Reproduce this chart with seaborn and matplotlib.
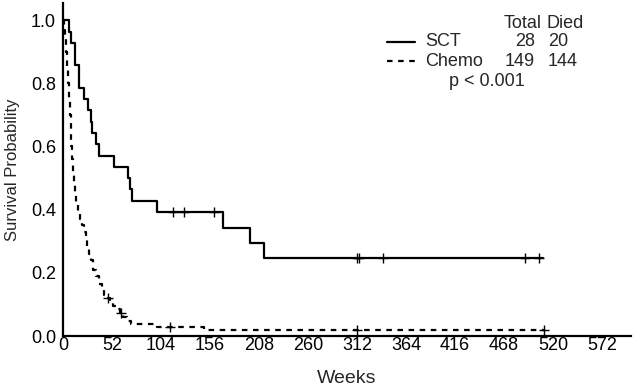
import pandas as pd
import seaborn as sns
import matplotlib.pyplot as plt
from matplotlib.lines import Line2D

# Kaplan-Meier step values (weeks, survival)
sct_weeks = [0, 6.4, 8.5, 12.7, 17, 22.3, 26.5, 29.4, 30.8, 34.7, 38.2, 54, 69.3, 71, 73, 100, 169.5, 198.5, 213, 509]
sct_surv = [1.0, 0.964, 0.929, 0.857, 0.786, 0.75, 0.714, 0.679, 0.643, 0.607, 0.571, 0.536, 0.5, 0.464, 0.429,
            0.393, 0.343, 0.295, 0.246, 0.246]
sct_cens_weeks = [116.4, 128.5, 160.6, 312.4, 314.6, 340, 490, 505]
sct_cens_surv = [0.393, 0.393, 0.393, 0.246, 0.246, 0.246, 0.246, 0.246]

chemo_weeks = [0, 1, 2, 3, 4, 5, 6, 7, 8, 9, 10, 11, 12, 13, 14, 16, 18, 20, 22, 24, 26, 28, 30, 32, 35, 38,
               41, 44, 47, 50, 53, 56, 60, 64, 68, 72, 100, 150, 511]
chemo_surv = [1.0, 0.97, 0.94, 0.90, 0.85, 0.80, 0.75, 0.70, 0.65, 0.60, 0.56, 0.52, 0.48, 0.45, 0.42, 0.39,
              0.37, 0.35, 0.33, 0.31, 0.28, 0.26, 0.24, 0.21, 0.19, 0.165, 0.145, 0.13, 0.12, 0.105, 0.095,
              0.085, 0.072, 0.06, 0.048, 0.037, 0.030, 0.019, 0.019]
chemo_cens_weeks = [48, 61.6, 113.6, 312.4, 511]
chemo_cens_surv = [0.12, 0.072, 0.030, 0.019, 0.019]

x_ticks = list(range(0, 573, 52))
y_ticks = [0.0, 0.2, 0.4, 0.6, 0.8, 1.0]

groups = ['SCT', 'Chemo']
totals = [28, 149]
died = [20, 144]

sct = pd.DataFrame({'weeks': sct_weeks, 'surv': sct_surv})
chemo = pd.DataFrame({'weeks': chemo_weeks, 'surv': chemo_surv})

sns.set_style("white")
plt.rcParams['font.family'] = ['Liberation Sans', 'DejaVu Sans']

fig = plt.figure(figsize=(6.33, 3.86), dpi=100)
ax = fig.add_axes([0.0995, 0.1295, 0.8975, 0.8625])

sns.lineplot(data=sct, x='weeks', y='surv', ax=ax, color='black', lw=1.6,
             drawstyle='steps-post', estimator=None)
sns.lineplot(data=chemo, x='weeks', y='surv', ax=ax, color='black', lw=1.6,
             drawstyle='steps-post', estimator=None, linestyle=(0, (2.5, 2.5)))
sns.scatterplot(x=sct_cens_weeks, y=sct_cens_surv, ax=ax, marker='+', s=55, color='black', linewidth=1.0)
sns.scatterplot(x=chemo_cens_weeks, y=chemo_cens_surv, ax=ax, marker='+', s=55, color='black', linewidth=1.0)

ax.set_xlim(0, 603)
ax.set_ylim(0, 1.054)
ax.set_xticks(x_ticks)
ax.set_yticks(y_ticks)
ax.set_yticklabels([f"{v:.1f}" for v in y_ticks])
sns.despine(ax=ax)
for s in ['left', 'bottom']:
    ax.spines[s].set_linewidth(1.6)
    ax.spines[s].set_color('black')
ax.tick_params(direction='in', length=2, width=1.5, labelsize=13, colors='black')
ax.tick_params(axis='x', pad=1)
ax.tick_params(axis='y', pad=5)
ax.set_xlabel('Weeks', fontsize=14, labelpad=11)
ax.set_ylabel('Survival Probability', fontsize=12, labelpad=8)

# legend table in figure pixels
W, H = 633, 386
def fx(px):
    return px / W
def fy(py):
    return 1 - py / H

fs = 13
fig.text(fx(523), fy(23), 'Total', fontsize=fs, ha='center', va='center')
fig.text(fx(546), fy(23), 'Died', fontsize=fs, ha='left', va='center')
rows_y = [42, 61]
styles = ['-', (0, (2.5, 2.5))]
for g, t, d, yy, ls in zip(groups, totals, died, rows_y, styles):
    fig.add_artist(Line2D([fx(387), fx(415)], [fy(yy), fy(yy)], color='black', lw=1.6, linestyle=ls))
    fig.text(fx(425), fy(yy), g, fontsize=fs, ha='left', va='center')
    fig.text(fx(535), fy(yy), str(t), fontsize=fs, ha='right', va='center')
    fig.text(fx(548), fy(yy), str(d), fontsize=fs, ha='left', va='center')
fig.text(fx(449), fy(81), 'p < 0.001', fontsize=fs, ha='left', va='center')

fig.savefig('out.png', dpi=100)
